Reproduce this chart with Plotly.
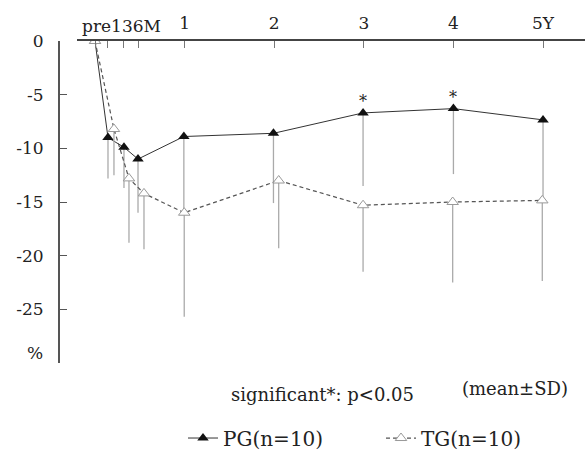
import plotly.graph_objects as go

# ---- data ----
time_labels = ["pre", "1M", "3M", "6M", "1Y", "2Y", "3Y", "4Y", "5Y"]
# plotted positions (month scale as drawn; TG slightly dodged at early points)
x_pg = [0, 1.74, 3.88, 5.76, 11.9, 23.9, 35.9, 48.0, 60.0]
x_tg = [0, 2.54, 4.55, 6.56, 11.95, 24.6, 35.9, 47.9, 59.9]
pg_mean = [0, -9.0, -9.9, -11.0, -8.9, -8.6, -6.7, -6.3, -7.35]
pg_sd = [0, 3.8, 3.8, 5.0, 7.1, 6.5, 6.8, 6.1, 7.5]
tg_mean = [0, -8.2, -12.8, -14.2, -16.0, -13.0, -15.3, -15.0, -14.85]
tg_sd = [0, 4.3, 6.0, 5.2, 9.7, 6.3, 6.2, 7.5, 7.5]
significant_idx = [6, 7]

top_tick_vals = [0, 1.74, 3.88, 5.76, 12, 24, 36, 48, 60]
top_tick_text = ["", "", "", "", "1", "2", "3", "4", "5Y"]
y_tick_vals = [0, -5, -10, -15, -20, -25]
y_tick_text = ["0", "-5", "-10", "-15", "-20", "-25"]

FONT = "DejaVu Serif"
TXT = "#222222"

fig = go.Figure()

fig.add_trace(go.Scatter(
    x=x_pg, y=pg_mean, mode="lines+markers", name="PG(n=10)",
    line=dict(color="#333333", width=1),
    marker=dict(symbol="triangle-up", size=10, color="#111111"),
    error_y=dict(type="data", symmetric=False, array=[0]*len(pg_sd),
                 arrayminus=pg_sd, color="#aaaaaa", thickness=1.3, width=0),
))
fig.add_trace(go.Scatter(
    x=x_tg, y=tg_mean, mode="lines+markers", name="TG(n=10)",
    line=dict(color="#555555", width=1.2, dash="4px,3px"),
    marker=dict(symbol="triangle-up", size=10, color="white",
                line=dict(color="#999999", width=1)),
    error_y=dict(type="data", symmetric=False, array=[0]*len(tg_sd),
                 arrayminus=tg_sd, color="#aaaaaa", thickness=1.3, width=0),
))

for i in significant_idx:
    fig.add_annotation(x=x_pg[i], y=pg_mean[i], text="*", showarrow=False,
                       yshift=11, font=dict(family=FONT, size=16, color=TXT))

fig.add_annotation(x=3.55, y=1, xref="x", yref="paper", yanchor="bottom",
                   xanchor="center",
                   text="pre136M", showarrow=False, yshift=3,
                   font=dict(family=FONT, size=17, color=TXT))
fig.add_annotation(x=45/585, y=0.031, xref="paper", yref="paper",
                   xanchor="right", yanchor="middle", text="%", showarrow=False,
                   font=dict(family=FONT, size=17, color=TXT))
fig.add_annotation(x=322/585, y=-0.099, xref="paper", yref="paper",
                   xanchor="center", yanchor="middle",
                   text="significant*: p<0.05", showarrow=False,
                   font=dict(family=FONT, size=18, color=TXT))
fig.add_annotation(x=515/585, y=-0.078, xref="paper", yref="paper",
                   xanchor="center", yanchor="middle",
                   text="(mean±SD)", showarrow=False,
                   font=dict(family=FONT, size=18, color=TXT))

fig.update_layout(
    width=585, height=450,
    margin=dict(l=0, r=0, t=41, b=87, autoexpand=False),
    paper_bgcolor="white", plot_bgcolor="white",
    font=dict(family=FONT, size=17, color=TXT),
    showlegend=True,
    legend=dict(orientation="h", x=183/585, xanchor="left",
                y=-0.233, yanchor="middle", font=dict(family=FONT, size=20),
                bgcolor="rgba(0,0,0,0)", entrywidth=153),
    xaxis=dict(domain=[77/585, 1], range=[-2.41, 65.62], side="top",
               showgrid=False, zeroline=False, showline=True,
               linecolor="#444444", linewidth=2,
               tickmode="array", tickvals=top_tick_vals, ticktext=top_tick_text,
               ticks="inside", ticklen=7, tickcolor="#777777", tickwidth=1,
               ticklabelstandoff=3),
    yaxis=dict(domain=[0, 1], range=[-30, 0], anchor="free", position=59/585,
               showgrid=False, zeroline=False, showline=True,
               linecolor="#555555", linewidth=2,
               tickmode="array", tickvals=y_tick_vals, ticktext=y_tick_text,
               ticks="inside", ticklen=7, tickcolor="#555555", tickwidth=1,
               ticklabelstandoff=11),
)

fig.write_html("out.html")
